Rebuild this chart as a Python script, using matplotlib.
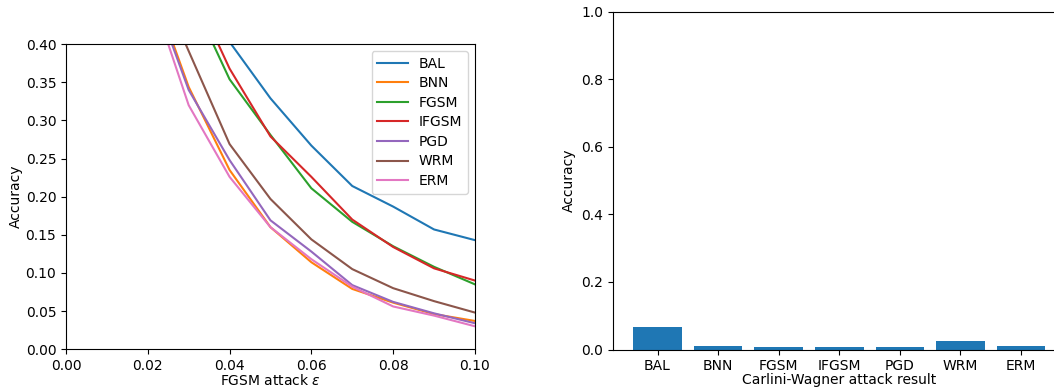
import matplotlib
matplotlib.use("Agg")
import matplotlib.pyplot as plt
import numpy as np

# FGSM epsilon values
eps = [0.02, 0.03, 0.04, 0.05, 0.06, 0.07, 0.08, 0.09, 0.10]

# accuracy per method (points above 0.40 are outside the visible window)
acc_bal = [0.62, 0.52, 0.403, 0.329, 0.267, 0.214, 0.187, 0.157, 0.143]
acc_bnn = [0.493, 0.344, 0.235, 0.160, 0.114, 0.079, 0.061, 0.046, 0.037]
acc_fgsm = [0.58, 0.469, 0.354, 0.281, 0.211, 0.167, 0.135, 0.108, 0.085]
acc_ifgsm = [0.60, 0.484, 0.368, 0.279, 0.226, 0.170, 0.134, 0.106, 0.090]
acc_pgd = [0.487, 0.340, 0.248, 0.169, 0.128, 0.084, 0.062, 0.047, 0.034]
acc_wrm = [0.514, 0.391, 0.269, 0.197, 0.144, 0.105, 0.080, 0.063, 0.048]
acc_erm = [0.480, 0.320, 0.226, 0.160, 0.118, 0.082, 0.056, 0.044, 0.030]

methods = ["BAL", "BNN", "FGSM", "IFGSM", "PGD", "WRM", "ERM"]
curves = [acc_bal, acc_bnn, acc_fgsm, acc_ifgsm, acc_pgd, acc_wrm, acc_erm]

# Carlini-Wagner results
cw_acc = [0.067, 0.011, 0.008, 0.008, 0.008, 0.026, 0.010]

plt.rcParams["font.size"] = 10
fig = plt.figure(figsize=(10.54, 3.91), dpi=100)

# left: FGSM curves
ax1 = fig.add_axes([0.0626, 0.107, 0.388, 0.780])
for name, vals in zip(methods, curves):
    ax1.plot(eps, vals, label=name)
ax1.set_xlim(0, 0.1)
ax1.set_ylim(0, 0.4)
ax1.set_xticks(np.arange(0, 0.101, 0.02))
ax1.set_yticks(np.arange(0, 0.401, 0.05))
ax1.set_xlabel(r"FGSM attack $\epsilon$", labelpad=0)
ax1.set_ylabel("Accuracy", labelpad=2)
ax1.legend(loc="upper right", handlelength=2.2, labelspacing=0.4)

# right: Carlini-Wagner bars (axes run past the right edge, as in the source)
ax2 = fig.add_axes([0.5813, 0.106, 0.430, 0.864])
ax2.bar(methods, cw_acc)
ax2.set_ylim(0, 1.0)
ax2.set_xlabel("Carlini-Wagner attack result", labelpad=0)
ax2.set_ylabel("Accuracy")

fig.savefig("out.png", dpi=100)
